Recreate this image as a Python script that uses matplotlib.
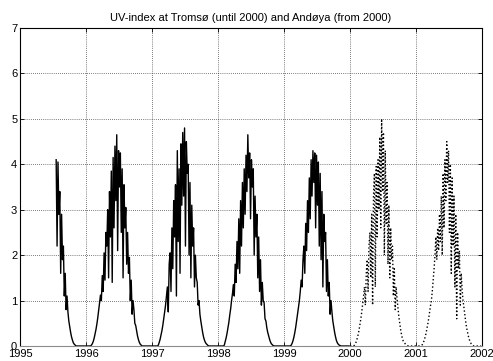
import numpy as np
import matplotlib
matplotlib.use("Agg")
import matplotlib.pyplot as plt

plt.rcParams["font.family"] = ["Liberation Sans", "DejaVu Sans"]

# UV-index, one value every 5 days (day of year 0, 5, ..., 360)
uv_1995 = [  # starts at day 200
    4.1, 2.2, 4.05, 2.9, 3.4, 1.6, 2.9, 1.9, 2.2, 1.1, 1.6, 0.8, 1.1, 0.75, 0.55, 0.42,
    0.3, 0.2, 0.13, 0.07, 0.04, 0.02, 0, 0, 0, 0, 0, 0, 0, 0, 0, 0, 0]
uv_1996 = [
    0, 0, 0, 0, 0, 0, 0.02, 0.05, 0.1, 0.17, 0.26, 0.36, 0.48, 0.62, 0.78, 0.95,
    1.12, 1.0, 1.55, 1.2, 2.05, 1.45, 2.5, 2.2, 3.0, 1.5, 3.4, 2.4, 3.85, 1.4, 4.15, 2.6,
    4.4, 3.2, 4.65, 2.1, 4.3, 3.5, 4.25, 2.5, 3.9, 1.5, 3.55, 2.6, 3.05, 1.8, 2.5, 1.6,
    1.95, 1.0, 1.45, 0.7, 1.0, 0.8, 0.5, 0.45, 0.33, 0.22, 0.14, 0.08, 0.04, 0.02,
    0, 0, 0, 0, 0, 0, 0, 0, 0, 0, 0]
uv_1997 = [
    0, 0, 0, 0, 0, 0, 0, 0.02, 0.08, 0.15, 0.24, 0.34, 0.46, 0.6, 0.75, 0.9,
    1.1, 1.3, 0.75, 1.8, 2.05, 1.2, 2.6, 1.7, 3.2, 2.4, 3.55, 1.1, 4.3, 2.3, 3.9, 1.6,
    4.45, 3.1, 4.7, 3.3, 4.8, 2.2, 4.5, 3.8, 4.0, 2.0, 3.6, 1.5, 3.1, 2.2, 2.6, 1.3,
    2.0, 1.5, 1.4, 0.9, 1.0, 0.7, 0.55, 0.42, 0.3, 0.2, 0.13, 0.08, 0.05, 0.03, 0.01,
    0, 0, 0, 0, 0, 0, 0, 0, 0, 0]
uv_1998 = [
    0, 0, 0, 0, 0, 0, 0, 0.02, 0.1, 0.18, 0.28, 0.4, 0.52, 0.68, 0.82, 1.0,
    1.15, 1.35, 1.1, 1.8, 1.4, 2.3, 1.7, 2.8, 1.6, 3.2, 2.2, 3.6, 2.6, 3.9, 2.9, 4.2,
    3.4, 4.65, 3.7, 4.25, 2.8, 4.1, 3.5, 3.9, 2.0, 3.3, 2.4, 2.9, 1.5, 2.4, 1.2, 1.9,
    0.9, 1.4, 1.0, 0.95, 0.6, 0.55, 0.4, 0.3, 0.22, 0.15, 0.09, 0.05, 0.03, 0.01,
    0, 0, 0, 0, 0, 0, 0, 0, 0, 0, 0]
uv_1999 = [
    0, 0, 0, 0, 0, 0, 0, 0, 0.02, 0.06, 0.12, 0.2, 0.3, 0.42, 0.56, 0.7,
    0.85, 1.0, 1.2, 1.45, 1.3, 1.9, 2.2, 1.6, 2.7, 2.1, 3.2, 2.5, 3.7, 2.8, 4.1, 3.3,
    4.3, 3.6, 4.25, 2.6, 4.2, 3.1, 4.05, 2.2, 3.8, 1.9, 3.4, 1.3, 2.9, 2.3, 2.5, 1.2,
    1.9, 1.1, 1.4, 0.7, 1.0, 0.75, 0.55, 0.42, 0.3, 0.2, 0.12, 0.07, 0.04, 0.02, 0.01,
    0, 0, 0, 0, 0, 0, 0, 0, 0, 0]
uv_2000 = [
    0, 0, 0, 0, 0, 0.02, 0.05, 0.1, 0.17, 0.25, 0.35, 0.47, 0.6, 0.75, 0.92, 1.1,
    1.3, 0.9, 1.6, 1.9, 1.2, 2.2, 2.5, 1.5, 2.9, 0.9, 3.3, 3.8, 1.3, 3.95, 2.4, 4.1,
    3.0, 4.6, 2.6, 5.0, 3.4, 4.7, 2.0, 4.3, 2.7, 3.6, 1.8, 3.1, 1.5, 2.6, 1.9, 2.2,
    1.1, 1.7, 0.8, 1.3, 1.05, 0.85, 0.65, 0.5, 0.36, 0.25, 0.16, 0.1, 0.08, 0.05, 0.03,
    0.015, 0.005, 0, 0, 0, 0, 0, 0, 0, 0]
uv_2001 = [
    0, 0, 0, 0, 0, 0, 0.01, 0.03, 0.07, 0.12, 0.19, 0.27, 0.37, 0.48, 0.6, 0.74,
    0.88, 1.0, 1.2, 1.45, 1.7, 2.0, 2.4, 1.9, 2.6, 2.1, 2.9, 2.3, 3.3, 2.0, 3.8, 2.6,
    4.1, 3.2, 4.5, 3.6, 4.3, 2.5, 4.0, 1.6, 3.7, 2.2, 3.3, 1.3, 2.9, 0.6, 2.5, 1.7,
    2.1, 0.9, 1.6, 1.25, 1.0, 0.85, 0.68, 0.53, 0.4, 0.3, 0.21, 0.14, 0.09, 0.05, 0.03,
    0.01, 0, 0, 0, 0, 0, 0, 0, 0, 0]

doy = np.arange(0, 365, 5)


def year_time(year, values):
    d = doy[len(doy) - len(values):]
    return year + d / 365.0, np.asarray(values, dtype=float)


tromso = [year_time(1995, uv_1995), year_time(1996, uv_1996), year_time(1997, uv_1997),
          year_time(1998, uv_1998), year_time(1999, uv_1999)]
andoya = [year_time(2000, uv_2000), year_time(2001, uv_2001)]

t1 = np.concatenate([a for a, b in tromso]); v1 = np.concatenate([b for a, b in tromso])
t2 = np.concatenate([a for a, b in andoya]); v2 = np.concatenate([b for a, b in andoya])

fig = plt.figure(figsize=(4.93, 3.61), dpi=100)
ax = fig.add_axes([20 / 493, 15 / 361, 462 / 493, 318 / 361])

ax.plot(t1, v1, "-", color="black", lw=1.0)
ax.plot(t2, v2, ":", color="black", lw=1.0)

ax.set_xlim(1995, 2002); ax.set_ylim(0, 7)
ax.set_xticks(range(1995, 2003)); ax.set_yticks(range(0, 8))
ax.grid(True, color="black", ls=(0, (1, 2)), lw=0.5)
ax.tick_params(direction="in", length=3, width=0.6, labelsize=8, pad=2,
               top=True, right=True)
for s in ax.spines.values():
    s.set_linewidth(0.8)
ax.spines["bottom"].set_color("0.55")
ax.set_title("UV-index at Tromsø (until 2000) and Andøya (from 2000)", fontsize=8, pad=5)

plt.savefig("out.png", dpi=100)
